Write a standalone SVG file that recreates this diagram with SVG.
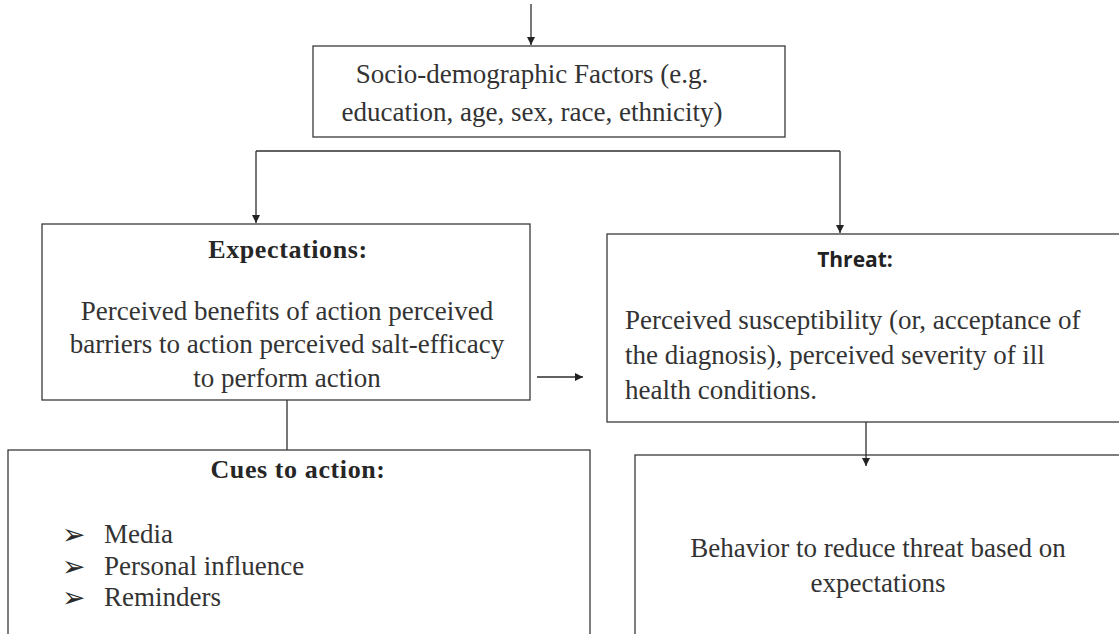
<svg xmlns="http://www.w3.org/2000/svg" width="1119" height="634" viewBox="0 0 1119 634">
  <style>
    .box { fill: #ffffff; stroke: #3a3a3a; stroke-width: 1.3; }
    .wire { fill: none; stroke: #2e2e2e; stroke-width: 1.3; }
    .serif { font-family: "Liberation Serif", "Times New Roman", serif; fill: #333333; }
    .body { font-size: 27px; }
    .head { font-size: 26px; font-weight: bold; fill: #262626; letter-spacing: 0.6px; }
    .sans-head { font-family: "Open Sans", "Liberation Sans", sans-serif; font-size: 21px; font-weight: bold; fill: #222; }
    .bullet { font-family: "DejaVu Sans", sans-serif; font-size: 28px; fill: #2a2a2a; }
  </style>
  <defs>
    <marker id="arrow" markerWidth="10" markerHeight="10" refX="9" refY="5" orient="auto" markerUnits="userSpaceOnUse">
      <path d="M1,1 L9,5 L1,9 Z" fill="#222"/>
    </marker>
  </defs>
  <rect width="1119" height="634" fill="#ffffff"/>

  <g id="connectors">
    <line class="wire" x1="531" y1="4" x2="531" y2="45" marker-end="url(#arrow)"/>
    <path class="wire" d="M256,151 H840"/>
    <line class="wire" x1="256" y1="151" x2="256" y2="223" marker-end="url(#arrow)"/>
    <line class="wire" x1="840" y1="151" x2="840" y2="233" marker-end="url(#arrow)"/>
    <line class="wire" x1="537" y1="377" x2="583" y2="377" marker-end="url(#arrow)"/>
    <line class="wire" x1="287" y1="400" x2="287" y2="450"/>
  </g>

  <g id="socio">
    <rect class="box" x="313" y="46" width="472" height="91"/>
    <text class="serif body" x="532" y="83" text-anchor="middle">Socio-demographic Factors (e.g.</text>
    <text class="serif body" x="532" y="121" text-anchor="middle">education, age, sex, race, ethnicity)</text>
  </g>

  <g id="expectations">
    <rect class="box" x="42" y="224" width="488" height="176"/>
    <text class="serif head" x="288" y="258" text-anchor="middle">Expectations:</text>
    <text class="serif body" x="287" y="320" text-anchor="middle">Perceived benefits of action perceived</text>
    <text class="serif body" x="287" y="353" text-anchor="middle">barriers to action perceived salt-efficacy</text>
    <text class="serif body" x="287" y="387" text-anchor="middle">to perform action</text>
  </g>

  <g id="threat">
    <rect class="box" x="607" y="234" width="520" height="188"/>
    <text class="sans-head" x="855" y="267" text-anchor="middle">Threat:</text>
    <text class="serif body" x="625" y="329">Perceived susceptibility (or, acceptance of</text>
    <text class="serif body" x="625" y="364">the diagnosis), perceived severity of ill</text>
    <text class="serif body" x="625" y="399">health conditions.</text>
  </g>

  <g id="cues">
    <rect class="box" x="8" y="450" width="582" height="200"/>
    <text class="serif head" x="298" y="478" text-anchor="middle">Cues to action:</text>
    <text class="bullet" x="62" y="544">➢</text>
    <text class="serif body" x="104" y="543">Media</text>
    <text class="bullet" x="62" y="576">➢</text>
    <text class="serif body" x="104" y="575">Personal influence</text>
    <text class="bullet" x="62" y="607">➢</text>
    <text class="serif body" x="104" y="606">Reminders</text>
  </g>

  <g id="behavior">
    <rect class="box" x="635" y="455" width="500" height="200"/>
    <text class="serif body" x="878" y="557" text-anchor="middle">Behavior to reduce threat based on</text>
    <text class="serif body" x="878" y="592" text-anchor="middle">expectations</text>
  </g>

  <g id="threat-link">
    <line class="wire" x1="866" y1="422" x2="866" y2="466" marker-end="url(#arrow)"/>
  </g>
</svg>
